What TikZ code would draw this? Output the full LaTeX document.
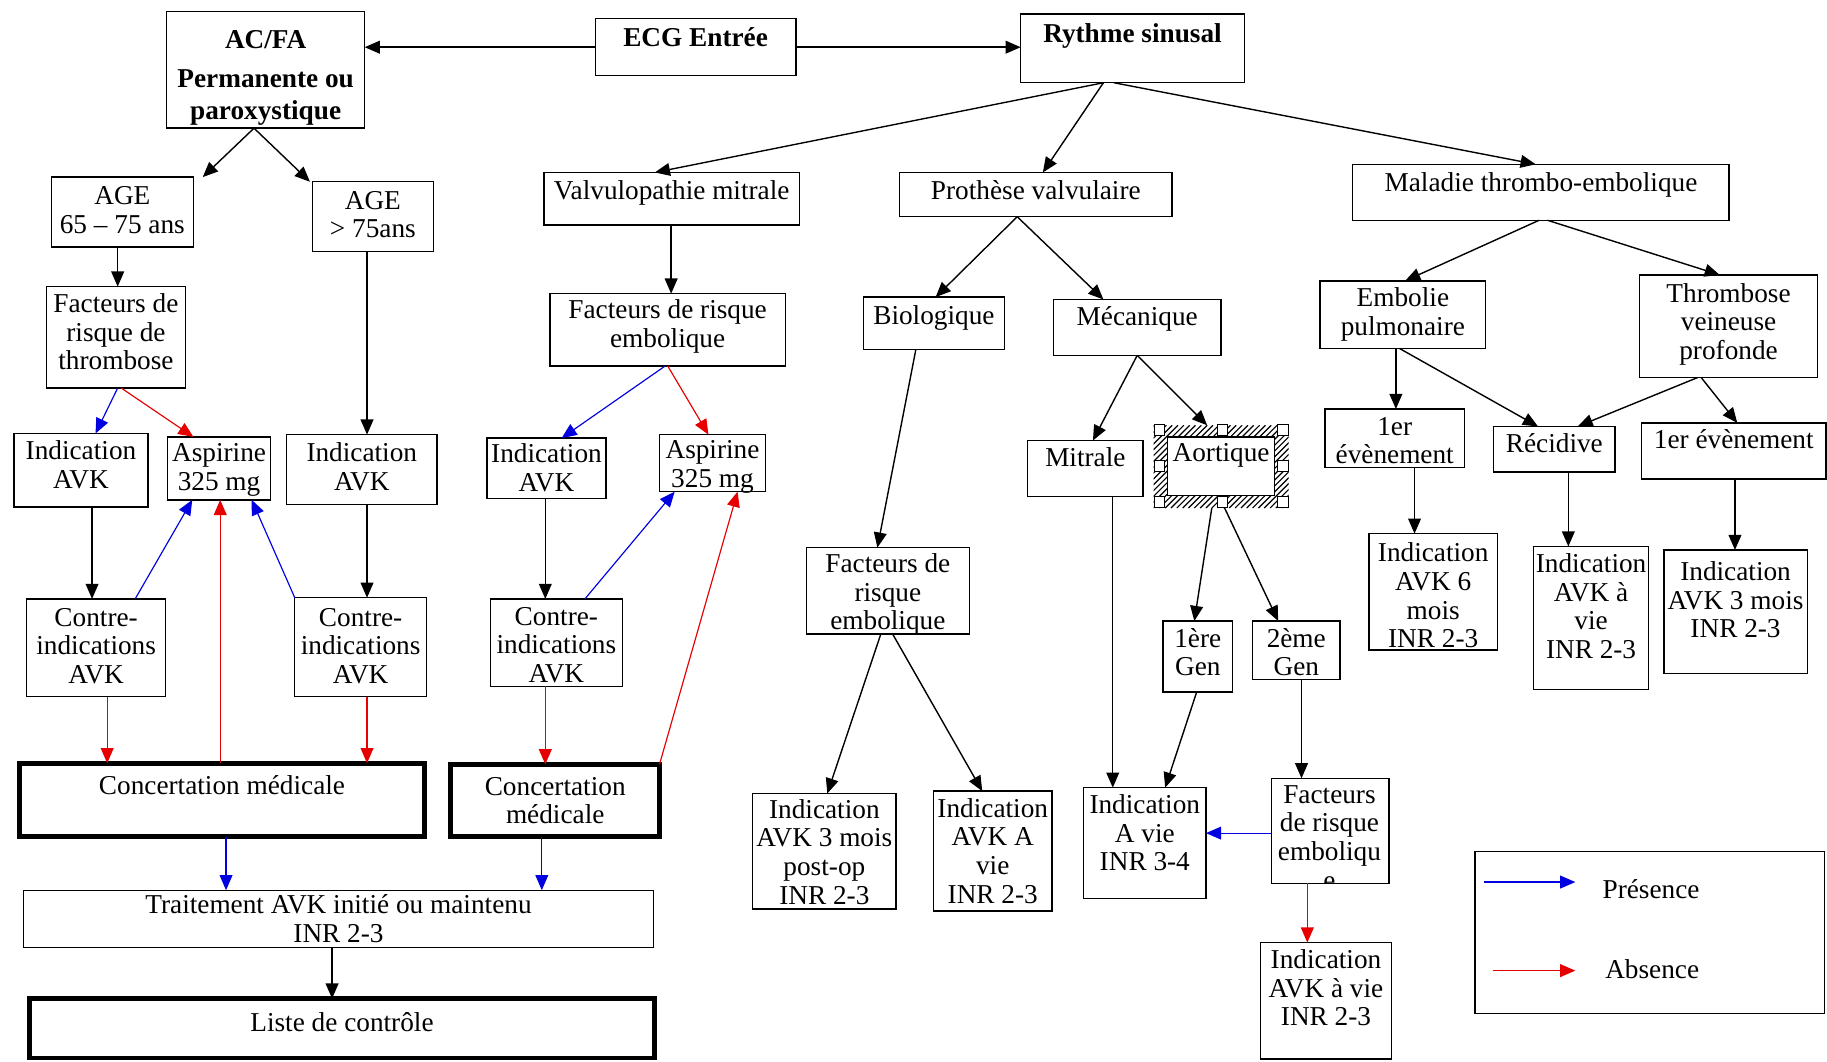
\documentclass[tikz,border=0pt]{standalone}
\usepackage{fontspec}
\setmainfont{Liberation Serif}
\usetikzlibrary{arrows.meta,fit}
\definecolor{pblue}{RGB}{0,0,225}
\definecolor{ared}{RGB}{230,0,0}
\tikzset{
  boxst/.style={draw, line width=0.6pt, inner sep=0pt, outer sep=0pt},
  thickbox/.style={draw, line width=2.1pt, inner sep=0pt, outer sep=0pt},
  txt/.style={inner sep=0pt, outer sep=0pt, align=center, font=\fontsize{11.7}{12.3}\selectfont},
  btxt/.style={inner sep=0pt, outer sep=0pt, align=center, font=\fontsize{11.7}{13.5}\selectfont\bfseries},
  arr/.style={line width=0.6pt, -{Triangle[length=6.5pt,width=5.5pt]}},
  parr/.style={arr, color=pblue, line width=0.5pt},
  aarr/.style={arr, color=ared, line width=0.5pt},
  handle/.style={draw, fill=white, line width=0.4pt, minimum size=4.5pt, inner sep=0pt},
  hatchline/.style={line width=0.5pt},
}
\newcommand\mybox[9][txt]{%
  \node[#2, fit={(#4,#5) (#6,#7)}] (#3) {};
  \node[#1, anchor=north] (#3-t) at ({(#4+#6)/2},{#8-8}) {#9};}
\begin{document}
\begin{tikzpicture}[x=0.5pt,y=-0.5pt]
\fill[white] (0,0) rectangle (1568,911);
\useasboundingbox (0,0) rectangle (1568,911);
% ---------- top
\mybox[btxt]{boxst}{acfa}{143}{10}{313}{110}{34}{AC/FA\\[3.5pt]Permanente ou\\paroxystique}
\mybox[btxt]{boxst}{ecg}{511}{16}{683}{65}{32}{ECG Entrée}
\mybox[btxt]{boxst}{rs}{876}{12}{1068}{71}{28}{Rythme sinusal}
% ---------- left column
\mybox{boxst}{age1}{44}{152}{166}{212}{168}{AGE\\65 – 75 ans}
\mybox{boxst}{age2}{268}{156}{372}{216}{172}{AGE\\> 75ans}
\mybox{boxst}{frt}{40}{246}{159}{333}{260}{Facteurs de\\risque de\\thrombose}
\mybox{boxst}{ia1}{12}{372}{127}{435}{386}{Indication\\AVK}
\mybox{boxst}{asp1}{144}{375}{232}{429}{389}{Aspirine\\325 mg}
\mybox{boxst}{ia2}{246}{373}{375}{433}{388}{Indication\\AVK}
\mybox{boxst}{ci1}{23}{514}{142}{598}{530}{Contre-\\indications\\AVK}
\mybox{boxst}{ci2}{253}{513}{366}{598}{530}{Contre-\\indications\\AVK}
\mybox{thickbox}{cm1}{17}{655}{364}{718}{674}{Concertation médicale}
\mybox{boxst}{trt}{20}{764}{561}{813}{776}{Traitement AVK initié ou maintenu\\INR 2-3}
\mybox{thickbox}{lst}{25}{857}{562}{908}{877}{Liste de contrôle}
% ---------- valvulopathie
\mybox{boxst}{vm}{467}{148}{686}{193}{163}{Valvulopathie mitrale}
\mybox{boxst}{fre}{472}{252}{674}{314}{265}{Facteurs de risque\\embolique}
\mybox{boxst}{ia3}{418}{376}{520}{428}{389}{Indication\\AVK}
\mybox{boxst}{asp2}{566}{373}{657}{422}{386}{Aspirine\\325 mg}
\mybox{boxst}{ci3}{421}{514}{534}{589}{529}{Contre-\\indications\\AVK}
\mybox{thickbox}{cm2}{387}{656}{566}{718}{675}{Concertation\\médicale}
% ---------- prothese
\mybox{boxst}{pv}{772}{148}{1006}{186}{163}{Prothèse valvulaire}
\mybox{boxst}{bio}{741}{255}{862}{300}{270}{Biologique}
\mybox{boxst}{mec}{904}{257}{1048}{305}{271}{Mécanique}
\mybox{boxst}{frb}{692}{470}{832}{544}{483}{Facteurs de\\risque\\embolique}
\mybox{boxst}{i3m}{646}{681}{769}{780}{694}{Indication\\AVK 3 mois\\post-op\\INR 2-3}
\mybox{boxst}{iav}{801}{679}{903}{782}{693}{Indication\\AVK A\\vie\\INR 2-3}
\mybox{boxst}{mit}{882}{378}{981}{426}{392}{Mitrale}
% selection frame of Aortique (hatched)
\node[fit={(990,365) (1106,436)}, inner sep=0pt, outer sep=0pt] (aorsel) {};
\begin{scope}
\clip (990,365) rectangle (1106,436);
\foreach \hx in {915,920,...,1110} {\draw[hatchline] (\hx,436) -- ++(71,-71);}
\end{scope}
\mybox{boxst, fill=white}{aor}{1002}{375}{1094}{425}{389}{Aortique}
\node[handle] (h1) at (995,369) {};
\node[handle] (h2) at (1049,369) {};
\node[handle] (h3) at (1101,369) {};
\node[handle] (h4) at (995,400) {};
\node[handle] (h5) at (1101,400) {};
\node[handle] (h6) at (995,431) {};
\node[handle] (h7) at (1049,431) {};
\node[handle] (h8) at (1101,431) {};
\mybox{boxst}{g1}{998}{533}{1058}{594}{547}{1ère\\Gen}
\mybox{boxst}{g2}{1075}{533}{1150}{583}{547}{2ème\\Gen}
\mybox{boxst}{iv34}{930}{676}{1035}{771}{690}{Indication\\A vie\\INR 3-4}
\node[boxst, fit={(1091,668) (1192,758)}] (frr) {};
\begin{scope}
\clip (1091,668) rectangle (1192,758);
\node[txt, anchor=north] (frr-t) at (1141,674) {Facteurs\\de risque\\emboliqu\\e};
\end{scope}
\mybox{boxst}{iavr}{1082}{809}{1194}{909}{823}{Indication\\AVK à vie\\INR 2-3}
% ---------- maladie thrombo-embolique
\mybox{boxst}{mte}{1161}{141}{1484}{189}{156}{Maladie thrombo-embolique}
\mybox{boxst}{ep}{1133}{241}{1275}{299}{255}{Embolie\\pulmonaire}
\mybox{boxst}{tvp}{1407}{236}{1560}{324}{251}{Thrombose\\veineuse\\profonde}
\mybox{boxst}{ev1}{1137}{351}{1257}{401}{366}{1er\\évènement}
\mybox{boxst}{rec}{1282}{366}{1386}{405}{380}{Récidive}
\mybox{boxst}{ev2}{1409}{363}{1567}{411}{377}{1er évènement}
\mybox{boxst}{i6m}{1175}{458}{1285}{558}{474}{Indication\\AVK 6\\mois\\INR 2-3}
\mybox{boxst}{iavv}{1316}{469}{1415}{592}{483}{Indication\\AVK à\\vie\\INR 2-3}
\mybox{boxst}{i3}{1428}{472}{1551}{578}{490}{Indication\\AVK 3 mois\\INR 2-3}
% ---------- legend
\node[boxst, fit={(1266,731) (1566,870)}] (leg) {};
\coordinate (lb1) at (1274,757);
\coordinate (lb2) at (1352,757);
\coordinate (lr1) at (1281,833);
\coordinate (lr2) at (1352,833);
\draw[parr] (lb1) -- (lb2);
\draw[aarr] (lr1) -- (lr2);
\node[txt] (legp) at (1417,763) {Présence};
\node[txt] (lega) at (1418,832) {Absence};
% ---------- connectors: top
\draw[arr] (ecg.west) -- (ecg.west -| acfa.east);
\draw[arr] (ecg.east) -- (ecg.east -| rs.west);
\draw[arr] (rs.south -| 947,0) -- (vm.north -| 562,0);
\draw[arr] (rs.south -| 947,0) -- (pv.north -| 895,0);
\draw[arr] (rs.south -| 956,0) -- (mte.north -| 1318,0);
% left
\draw[arr] (acfa.south -| 218,0) -- (age1.north -| 174,0);
\draw[arr] (acfa.south -| 218,0) -- (age2.north -| 266,0);
\draw[arr] (age1.south -| 101,0) -- (frt.north -| 101,0);
\draw[arr] (age2.south -| 315,0) -- (ia2.north -| 315,0);
\draw[parr] (frt.south -| 101,0) -- (ia1.north -| 82,0);
\draw[aarr] (frt.south -| 104,0) -- (asp1.north -| 166,0);
\draw[arr] (ia1.south -| 79,0) -- (ci1.north -| 79,0);
\draw[parr] (ci1.north -| 116,0) -- (asp1.south -| 165,0);
\draw[parr] (ci2.north -| 253,0) -- (asp1.south -| 216,0);
\draw[aarr] (cm1.north -| 189,0) -- (asp1.south -| 189,0);
\draw[arr] (ia2.south -| 315,0) -- (ci2.north -| 315,0);
\draw[aarr] (ci1.south -| 92,0) -- (cm1.north -| 92,0);
\draw[aarr] (ci2.south -| 315,0) -- (cm1.north -| 315,0);
\draw[parr] (cm1.south -| 194,0) -- (trt.north -| 194,0);
\draw[parr] (cm2.south -| 465,0) -- (trt.north -| 465,0);
\draw[arr] (trt.south -| 285,0) -- (lst.north -| 285,0);
% valvulopathie
\draw[arr] (vm.south -| 576,0) -- (fre.north -| 576,0);
\draw[parr] (fre.south -| 571,0) -- (ia3.north -| 482,0);
\draw[aarr] (fre.south -| 573,0) -- (asp2.north -| 608,0);
\draw[arr] (ia3.south -| 468,0) -- (ci3.north -| 468,0);
\draw[parr] (ci3.north -| 502,0) -- (asp2.south -| 579,0);
\draw[aarr] (ci3.south -| 468,0) -- (cm2.north -| 468,0);
\draw[aarr] (cm2.north east) -- (asp2.south -| 633,0);
% prothese
\draw[arr] (pv.south -| 873,0) -- (bio.north -| 803,0);
\draw[arr] (pv.south -| 873,0) -- (mec.north -| 947,0);
\draw[arr] (bio.south -| 786,0) -- (frb.north -| 753,0);
\draw[arr] (frb.south -| 756,0) -- (i3m.north -| 710,0);
\draw[arr] (frb.south -| 766,0) -- (iav.north -| 843,0);
\draw[arr] (mec.south -| 976,0) -- (mit.north -| 938,0);
\draw[arr] (mec.south -| 976,0) -- (aorsel.north -| 1036,0);
\draw[arr] (mit.south -| 955,0) -- (iv34.north -| 955,0);
\draw[arr] (aorsel.south -| 1040,0) -- (g1.north -| 1025,0);
\draw[arr] (aorsel.south -| 1051,0) -- (g2.north -| 1097,0);
\draw[arr] (g1.south -| 1027,0) -- (iv34.north -| 1000,0);
\draw[arr] (g2.south -| 1117,0) -- (frr.north -| 1117,0);
\draw[parr] (frr.west |- 0,715) -- (iv34.east |- 0,715);
\draw[aarr] (frr.south -| 1122,0) -- (iavr.north -| 1122,0);
% thrombo-embolique
\draw[arr] (mte.south -| 1321,0) -- (ep.north -| 1206,0);
\draw[arr] (mte.south -| 1328,0) -- (tvp.north -| 1476,0);
\draw[arr] (ep.south -| 1198,0) -- (ev1.north -| 1198,0);
\draw[arr] (ep.south -| 1201,0) -- (rec.north -| 1320,0);
\draw[arr] (tvp.south -| 1457,0) -- (rec.north -| 1354,0);
\draw[arr] (tvp.south -| 1460,0) -- (ev2.north -| 1491,0);
\draw[arr] (ev1.south -| 1214,0) -- (i6m.north -| 1214,0);
\draw[arr] (rec.south -| 1346,0) -- (iavv.north -| 1346,0);
\draw[arr] (ev2.south -| 1489,0) -- (i3.north -| 1489,0);
\end{tikzpicture}
\end{document}
